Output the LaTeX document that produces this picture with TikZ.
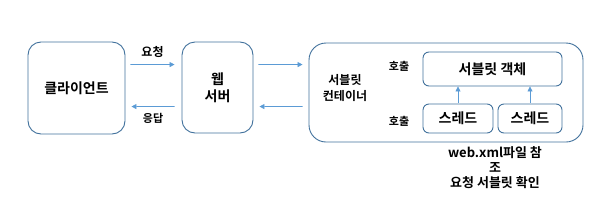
\documentclass[tikz,border=0pt]{standalone}
\usepackage{fontspec}
\setmainfont{Noto Sans CJK KR}[BoldFont=* Bold]
\usetikzlibrary{arrows.meta,calc}

\definecolor{boxblue}{RGB}{65,113,156}
\definecolor{arrowblue}{RGB}{91,155,213}

\begin{document}
\begin{tikzpicture}[x=1bp,y=-1bp,
  box/.style={draw=boxblue,line width=0.9bp,rounded corners=13bp},
  smallbox/.style={draw=boxblue,line width=0.9bp,rounded corners=6bp},
  big/.style={font=\bfseries\fontsize{14bp}{17bp}\selectfont},
  small/.style={font=\bfseries\fontsize{11bp}{14bp}\selectfont},
  flow/.style={draw=arrowblue,line width=0.8bp,-{Triangle[length=5bp,width=5bp]}}]

\useasboundingbox (0,0) rectangle (607,209);

% client and web server
\node[box,minimum width=97bp,minimum height=92bp] (client) at (76.5,88) {};
\node[big] (clientlbl) at (client.center) {클라이언트};

\node[box,minimum width=71bp,minimum height=91bp] (web) at (217.5,87.5) {};
\node[big,align=center] (weblbl) at (web.center) {웹\\서버};

% servlet container
\node[box,rounded corners=17bp,minimum width=274bp,minimum height=99bp] (cont) at (446,92.5) {};
\node[font=\bfseries\fontsize{12bp}{16bp}\selectfont,align=center] (contlbl) at (345,88) {서블릿\\컨테이너};

% servlet object and threads
\node[smallbox,big,minimum width=139bp,minimum height=34bp] (obj) at (492.5,69) {서블릿 객체};
\node[smallbox,big,minimum width=70bp,minimum height=29bp] (th1) at (458,118.5) {스레드};
\node[smallbox,big,minimum width=64bp,minimum height=29bp] (th2) at (530,118.5) {스레드};

\node[small] (call1) at (399,66) {호출};
\node[small] (call2) at (399,121) {호출};

% request / response
\draw[flow] ([shift={(5,23)}]client.north east) -- ([shift={(-7,23)}]web.north west)
  node[small,font=\bfseries\fontsize{12bp}{14bp}\selectfont,midway,above=3bp] (req) {요청};
\draw[flow] ([shift={(-7,65)}]web.north west) -- ([shift={(6,65)}]client.north east)
  node[small,midway,below=3bp] (resp) {응답};

\draw[flow] ([shift={(5,23)}]web.north east) -- ([shift={(-6,22)}]cont.north west);
\draw[flow] ([shift={(-6,64)}]cont.north west) -- ([shift={(6,65)}]web.north east);

% thread calls
\draw[flow,shorten <=1bp] (th1.north) -- (th1.north |- obj.south);
\draw[flow,shorten <=1bp] (th2.north) -- (th2.north |- obj.south);

% note
\node[font=\bfseries\fontsize{13bp}{15bp}\selectfont,align=center] (note) at (495,168)
  {web.xml파일 참\\조\\요청 서블릿 확인};

\end{tikzpicture}
\end{document}
